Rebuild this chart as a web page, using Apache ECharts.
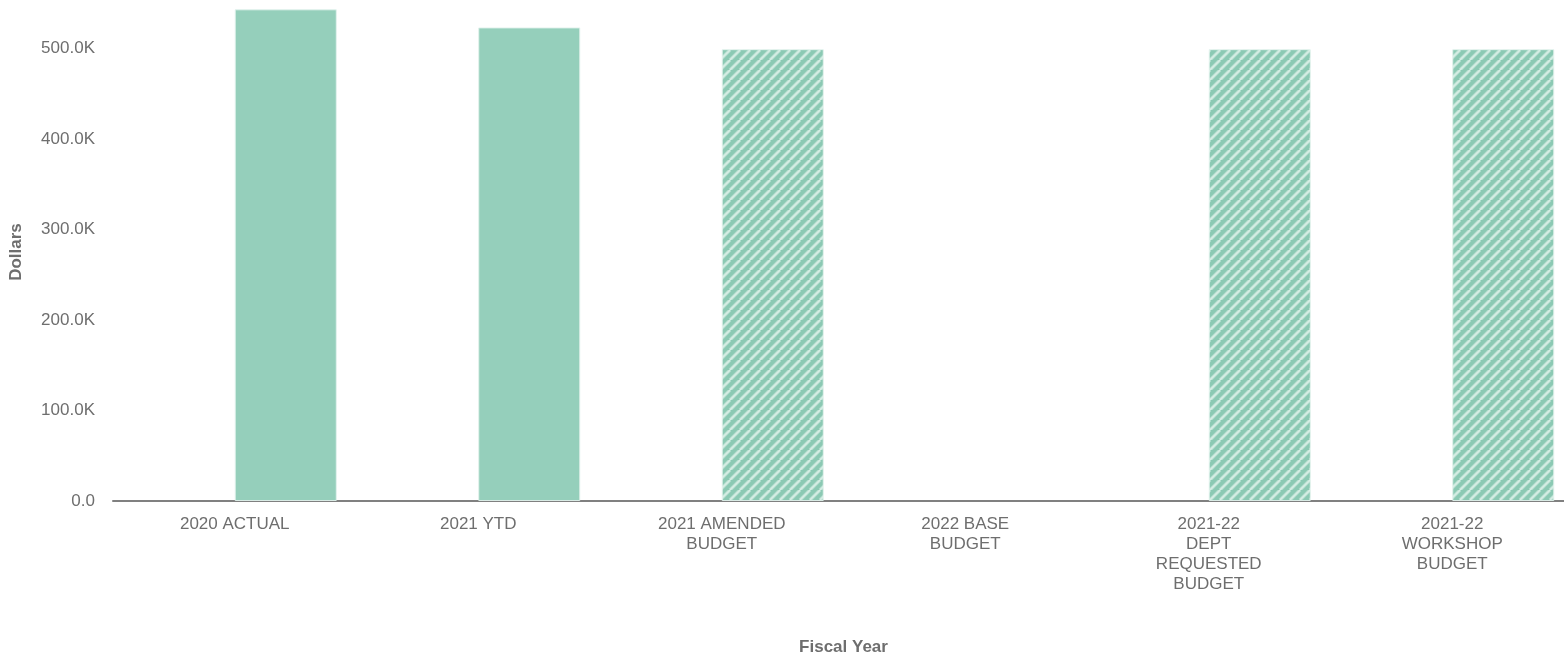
<!DOCTYPE html>
<html>
<head>
<meta charset="utf-8">
<script src="https://cdn.jsdelivr.net/npm/echarts@6/dist/echarts.min.js"></script>
<style>
html,body{margin:0;padding:0;background:#fff;overflow:hidden;}
#chart{width:1564px;height:659px;position:absolute;left:0;top:0;}
</style>
</head>
<body>
<div id="chart"></div>
<script>
const categories = ['2020 ACTUAL', '2021 YTD', '2021 AMENDED\nBUDGET', '2022 BASE\nBUDGET', '2021-22\nDEPT\nREQUESTED\nBUDGET', '2021-22\nWORKSHOP\nBUDGET'];
const dollars = [543000, 523000, 499000, null, 499000, 499000];
const otherSeries = [null, null, null, null, null, null];
const isBudget = [false, false, true, true, true, true];
const yTicks = { min: 0, max: 550000, step: 100000 };

function stripePattern() {
  const s = 10;
  const c = document.createElement('canvas');
  c.width = s; c.height = s;
  const g = c.getContext('2d');
  g.fillStyle = '#8bc9b3';
  g.fillRect(0, 0, s, s);
  function stripes(color, w) {
    g.strokeStyle = color;
    g.lineWidth = w;
    g.beginPath();
    for (let k = -1; k <= 1; k++) {
      g.moveTo(k * s, s);
      g.lineTo(k * s + s, 0);
    }
    g.stroke();
  }
  stripes('#b2dccd', 3.6);
  stripes('#d6eee5', 1.6);
  return c;
}
const pattern = { image: stripePattern(), repeat: 'repeat' };

const chart = echarts.init(document.getElementById('chart'), null, { renderer: 'canvas', width: 1564, height: 659 });
const font = 'Liberation Sans, Arial, sans-serif';
const textColor = '#6e6e6e';
chart.setOption({
  animation: false,
  textStyle: { fontFamily: font },
  grid: { left: 113, top: 3, width: 1461, height: 498, containLabel: false, outerBoundsMode: 'none' },
  xAxis: {
    type: 'category',
    data: categories,
    name: 'Fiscal Year',
    nameLocation: 'middle',
    nameGap: 138,
    nameTextStyle: { fontFamily: font, fontSize: 17, fontWeight: 'bold', color: textColor },
    axisLine: { show: true, lineStyle: { color: '#808080', width: 2 } },
    axisTick: { show: false },
    axisLabel: { interval: 0, color: textColor, fontFamily: font, fontSize: 17, lineHeight: 20, margin: 13 },
    splitLine: { show: false }
  },
  yAxis: {
    type: 'value',
    min: yTicks.min,
    max: yTicks.max,
    interval: yTicks.step,
    name: 'Dollars',
    nameLocation: 'middle',
    nameGap: 88,
    nameTextStyle: { fontFamily: font, fontSize: 17, fontWeight: 'bold', color: textColor },
    axisLine: { show: false },
    axisTick: { show: false },
    splitLine: { show: false },
    axisLabel: {
      showMaxLabel: false,
      color: textColor, fontFamily: font, fontSize: 17, margin: 18,
      formatter: v => v === 0 ? '0.0' : (v / 1000).toFixed(1) + 'K'
    }
  },
  series: [
    { type: 'bar', name: 'other', data: otherSeries, barWidth: 102, barGap: '0%' },
    {
      type: 'bar', name: 'Dollars', barWidth: 102, barGap: '0%',
      data: dollars.map((v, i) => ({
        value: v,
        itemStyle: {
          color: isBudget[i] ? pattern : '#95cfbb',
          borderColor: 'rgba(225,242,236,0.9)', borderWidth: 1
        }
      }))
    }
  ]
});
</script>
</body>
</html>
